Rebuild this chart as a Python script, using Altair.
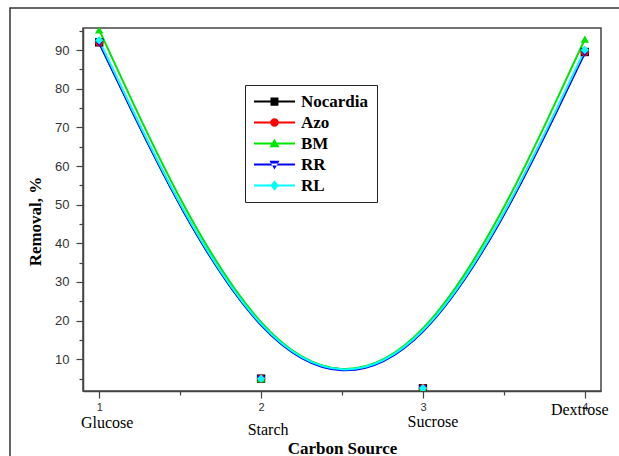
import altair as alt
import pandas as pd

# ---- data ----
sources = ["Glucose", "Starch", "Sucrose", "Dextrose"]
source_pos = [1, 2, 3, 4]
series_names = ["Nocardia", "Azo", "BM", "RR", "RL"]
nocardia = [92.0, 5.0, 2.5, 89.5]
azo = [92.0, 5.0, 2.5, 89.5]
bm = [95.2, 5.0, 2.5, 92.8]
rr = [91.8, 4.8, 2.3, 89.2]
rl = [92.5, 5.0, 2.5, 90.0]
y_major = [10, 20, 30, 40, 50, 60, 70, 80, 90]
y_minor = [5, 15, 25, 35, 45, 55, 65, 75, 85, 95]
x_major = [1, 2, 3, 4]
x_minor = [1.5, 2.5, 3.5]

# ---- styles ----
colors = ["#000000", "#ff0000", "#00e600", "#0000ff", "#00ffff"]
shapes = ["square", "circle", "triangle-up", "triangle-down", "diamond"]
# legend glyphs: a 41px line with the marker at its middle (unit = 7.5px, column spans -1..1)
_bar = "M-1,-0.14L4.47,-0.14L4.47,0.14L-1,0.14Z"
legend_paths = [
    _bar + "M1.2,-0.55L2.26,-0.55L2.26,0.55L1.2,0.55Z",
    _bar + "M2.3,0A0.57,0.57 0 1,1 1.16,0A0.57,0.57 0 1,1 2.3,0Z",
    _bar + "M1.73,-0.65L2.4,0.5L1.06,0.5Z",
    _bar + "M1.73,0.65L2.4,-0.5L1.06,-0.5Z",
    _bar + "M1.73,-0.7L2.3,0L1.73,0.7L1.16,0Z",
]
name_offsets = {"Glucose": (8, 32), "Starch": (7, 39), "Sucrose": (10, 31), "Dextrose": (-5, 19)}

W, H = 518, 363
SERIF = "Liberation Serif"
SANS = "Liberation Sans"

series_values = [nocardia, azo, bm, rr, rl]
rows = []
for i, (name, vals) in enumerate(zip(series_names, series_values)):
    for p, v in zip(source_pos, vals):
        rows.append({"series": name, "order": i, "pos": p, "value": v})
df = pd.DataFrame(rows)

xscale = alt.Scale(domain=[0.9, 4.1], nice=False, zero=False)
yscale = alt.Scale(domain=[1.8, 95.7], nice=False, zero=False)

common_axis = dict(
    labelOverlap=False, labelFlush=False, grid=False,
    domainColor="#444", domainWidth=1.5, tickColor="#444", tickWidth=1.2,
)
x_axis = alt.Axis(
    values=x_major, format="d", tickSize=7, orient="bottom",
    labelFont=SANS, labelFontSize=11, labelColor="#333", labelPadding=3,
    title="Carbon Source", titleFont=SERIF, titleFontSize=17, titleFontWeight="bold",
    titleColor="#000", titleY=57, titleBaseline="middle", **common_axis,
)
y_axis = alt.Axis(
    values=y_major, format="d", tickSize=7, orient="left",
    labelFont=SANS, labelFontSize=13, labelColor="#333", labelPadding=7,
    title="Removal, %", titleFont=SERIF, titleFontSize=17, titleFontWeight="bold",
    titleColor="#000", titleX=-48, titleY=193, titleBaseline="middle", **common_axis,
)
x_minor_axis = alt.Axis(values=x_minor, tickSize=4, labels=False, title=None, domain=False,
                        orient="bottom", tickColor="#444", tickWidth=1.2, grid=False)
y_minor_axis = alt.Axis(values=y_minor, tickSize=4, labels=False, title=None, domain=False,
                        orient="left", tickColor="#444", tickWidth=1.2, grid=False)

base = alt.Chart(df)

line_layers = []
point_layers = []
for name, col, shp in zip(series_names, colors, shapes):
    sub = base.transform_filter(alt.datum.series == name)
    line_layers.append(
        sub.mark_line(interpolate="basis", strokeWidth=2, color=col, clip=True).encode(
            x=alt.X("pos:Q", scale=xscale, axis=x_axis),
            y=alt.Y("value:Q", scale=yscale, axis=y_axis),
        )
    )
    point_layers.append(
        sub.mark_point(filled=True, size=70, opacity=1, color=col, shape=shp, clip=True).encode(
            x=alt.X("pos:Q", scale=xscale, axis=x_axis),
            y=alt.Y("value:Q", scale=yscale, axis=y_axis),
        )
    )

legend_def = alt.Legend(
    orient="none", legendX=162, legendY=57, title=None,
    labelFont=SERIF, labelFontSize=17, labelFontWeight="bold", labelColor="#000",
    labelOffset=31, symbolSize=225, symbolStrokeWidth=0, rowPadding=3,
    symbolOpacity=1,
    padding=8, strokeColor="#222", fillColor="white",
)
legend_layer = base.transform_filter("false").mark_point(
    filled=True, size=225, opacity=1, strokeWidth=0
).encode(
    x=alt.X("pos:Q", scale=xscale, axis=x_axis),
    y=alt.Y("value:Q", scale=yscale, axis=y_axis),
    color=alt.Color("series:N", scale=alt.Scale(domain=series_names, range=colors), legend=legend_def),
    shape=alt.Shape("series:N", scale=alt.Scale(domain=series_names, range=legend_paths), legend=legend_def),
)

names_df = pd.DataFrame({"name": sources, "pos": source_pos})
name_layers = []
for nm in sources:
    dx, off = name_offsets[nm]
    name_layers.append(
        alt.Chart(names_df).transform_filter(alt.datum.name == nm).mark_text(
            font=SERIF, fontSize=16, color="#000", dx=dx, baseline="middle", align="center"
        ).encode(
            x=alt.X("pos:Q", scale=xscale, axis=x_axis),
            y=alt.value(H + off),
            text="name:N",
        )
    )

frame = alt.Chart(pd.DataFrame({"a": [0]})).mark_rect(
    fillOpacity=0, stroke="#333", strokeWidth=1.5
).encode(
    x=alt.value(-73), x2=alt.value(W + 40), y=alt.value(-20), y2=alt.value(H + 90)
)

main = alt.layer(*line_layers, *point_layers, *name_layers, legend_layer)

minor = base.transform_filter("false").mark_point(opacity=0).encode(
    x=alt.X("pos:Q", scale=xscale, axis=x_minor_axis),
    y=alt.Y("value:Q", scale=yscale, axis=y_minor_axis),
)

chart = alt.layer(frame, main, minor).resolve_axis(x="independent", y="independent").properties(
    width=W, height=H,
    autosize=alt.AutoSizeParams(type="none"),
    padding={"left": 83, "top": 28, "right": 18, "bottom": 65},
    background="white",
).configure_view(stroke="#444", strokeWidth=1.5)

chart.save("out.html", embed_options={"renderer": "svg", "actions": False})
